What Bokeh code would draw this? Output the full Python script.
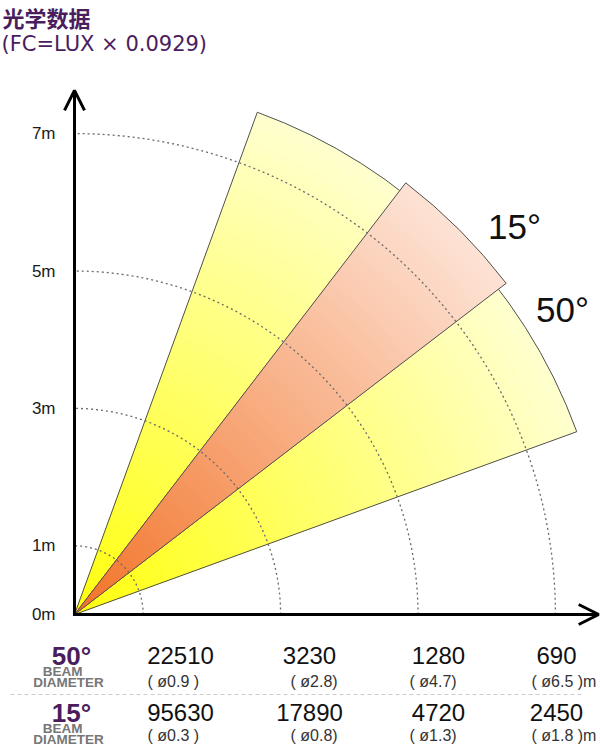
import math
from bokeh.plotting import figure
from bokeh.models import Range1d, Arrow, OpenHead
from bokeh.core.properties import value
from bokeh.embed import file_html
from bokeh.resources import INLINE

# ---------------- data ----------------
beam_angles = [50, 15]              # degrees
beam_reach = [7.78, 7.92]           # metres (length of drawn fan)
ring_distances = [1, 3, 5, 7]       # metres (dotted arcs)
tick_values = [0, 1, 3, 5, 7]
tick_labels = ["0m", "1m", "3m", "5m", "7m"]
axis_length = 7.63

lux_50 = [22510, 3230, 1280, 690]
diam_50 = ["( ø0.9 )", "( ø2.8)", "( ø4.7)", "( ø6.5 )m"]
lux_15 = [95630, 17890, 4720, 2450]
diam_15 = ["( ø0.3 )", "( ø0.8)", "( ø1.3)", "( ø1.8 )m"]

title_text = "光学数据"
subtitle_text = "(FC=LUX × 0.0929)"

# ---------------- layout helpers (reference pixels -> metres) ----------------
S = 68.7
OX, OY = 74, 614
def X(px):
    return (px - OX) / S
def Y(py):
    return (OY - py) / S

W, H = 600, 746
p = figure(width=W, height=H,
           x_range=Range1d(X(0), X(W)), y_range=Range1d(Y(H), Y(0)),
           x_axis_type=None, y_axis_type=None,
           output_backend="svg", toolbar_location=None, min_border=0)
p.grid.visible = False
p.outline_line_color = None
p.background_fill_color = "white"
p.border_fill_color = "white"

PURPLE = "#4a1d5e"
ARIAL = value("Liberation Sans")

# ---------------- fans with radial gradient ----------------
fan_colors = {50: ((255, 255, 10), (255, 255, 206)),
              15: ((242, 114, 38), (253, 226, 212))}
N = 70
for ang, reach in zip(beam_angles, beam_reach):
    c0, c1 = fan_colors[ang]
    radii, cols = [], []
    for k in range(N, 0, -1):
        t = k / N
        radii.append(reach * t)
        rgb = tuple(int(round(a + (b - a) * t)) for a, b in zip(c0, c1))
        cols.append("#%02x%02x%02x" % rgb)
    sa = math.radians(45 - ang / 2)
    ea = math.radians(45 + ang / 2)
    p.wedge(x=0, y=0, radius=radii, start_angle=sa, end_angle=ea,
            fill_color=cols, line_color=None)
    p.wedge(x=[0], y=[0], radius=[reach], start_angle=sa, end_angle=ea,
            fill_color=None, line_color="#505050", line_width=1)

# dotted distance arcs
p.arc(x=0, y=0, radius=ring_distances, start_angle=0, end_angle=math.pi / 2,
      line_color="#6a6a6a", line_dash="2 3", line_width=1.3)

# axes with arrow heads
p.line(x=[0, 0, axis_length], y=[axis_length, 0, 0], line_color="black",
       line_width=3, line_join="miter")
for xe, ye in [(0, axis_length), (axis_length, 0)]:
    p.add_layout(Arrow(end=OpenHead(size=20, line_width=3, line_color="black"),
                       x_start=0, y_start=0, x_end=xe, y_end=ye,
                       line_width=3, line_color="black"))

# tick labels
p.text(x=[X(55)] * len(tick_values), y=tick_values, text=tick_labels,
       text_align="right", text_baseline="middle", text_font=ARIAL,
       text_font_size="17px", text_color="#1a1a1a")

# beam labels
p.text(x=[X(514), X(562)], y=[Y(226), Y(309)],
       text=["%d°" % beam_angles[1], "%d°" % beam_angles[0]],
       text_align="center", text_baseline="middle", text_font=ARIAL,
       text_font_size="35px", text_color="#111111")

# title
p.text(x=[X(2)], y=[Y(16)], text=[title_text], text_align="left",
       text_baseline="middle", text_font=value("Noto Sans CJK SC"),
       text_font_style="bold", text_font_size="22px", text_color=PURPLE)
p.text(x=[X(1)], y=[Y(43)], text=[subtitle_text], text_align="left",
       text_baseline="middle", text_font=value("DejaVu Sans"),
       text_font_size="21px", text_color=PURPLE)

# ---------------- table ----------------
num_cx = [180, 309, 438, 556]
par_lx = [147, 290, 409, 531]
rows = [(beam_angles[0], lux_50, diam_50, 655, 681),
        (beam_angles[1], lux_15, diam_15, 712, 735)]
for ang, lux, diam, ny, dy in rows:
    p.text(x=[X(71)], y=[Y(ny)], text=["%d°" % ang], text_align="center",
           text_baseline="middle", text_font=ARIAL, text_font_style="bold",
           text_font_size="26px", text_color=PURPLE)
    p.text(x=[X(62), X(68)], y=[Y(ny + 16), Y(ny + 27)],
           text=["BEAM", "DIAMETER"], text_align="center",
           text_baseline="middle", text_font=ARIAL, text_font_style="bold",
           text_font_size="13.5px", text_color="#777777")
    p.text(x=[X(c) for c in num_cx], y=[Y(ny)] * 4, text=[str(v) for v in lux],
           text_align="center", text_baseline="middle", text_font=ARIAL,
           text_font_size="24px", text_color="#111111")
    p.text(x=[X(c) for c in par_lx], y=[Y(dy)] * 4, text=diam,
           text_align="left", text_baseline="middle", text_font=ARIAL,
           text_font_size="16px", text_color="#333333")

p.line(x=[X(10), X(582)], y=[Y(694), Y(694)], line_color="#cccccc",
       line_width=1, line_dash="4 3")

open("out.html", "w").write(file_html(p, INLINE))
